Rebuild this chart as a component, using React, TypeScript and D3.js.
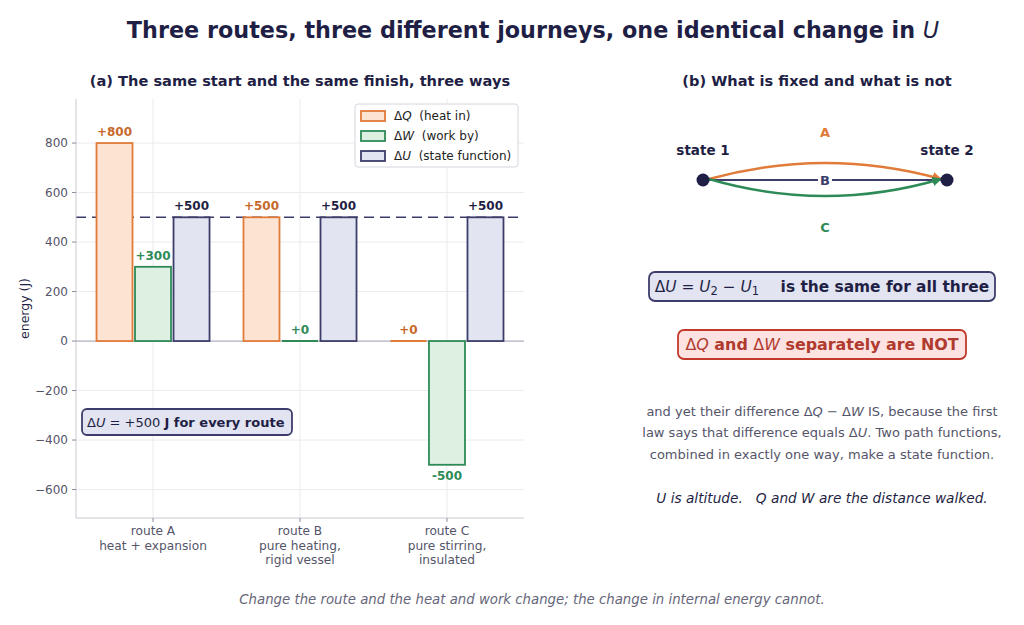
import { useRef, useEffect } from 'react';
import * as d3 from 'd3';

const W = 1024, H = 625;
const M = { top: 99, right: 500, bottom: 107, left: 76 };
const IW = 524 - M.left;
const IH = 518 - M.top;

const ROUTES = ['route A', 'route B', 'route C'];
const ROUTE_NOTES = [['heat + expansion'], ['pure heating,', 'rigid vessel'], ['pure stirring,', 'insulated']];
const DQ = [800, 500, 0];
const DW = [300, 0, -500];
const DU = [500, 500, 500];
const Y_TICKS = [-600, -400, -200, 0, 200, 400, 600, 800];
const Y_DOMAIN = [-715, 978];
const DU_COMMON = 500;

const NAVY = '#1f1f45';
const GREY = '#55556a';
const SERIES = [
  { key: 'Q', values: DQ, stroke: '#e07b39', fill: '#fde3d2', label: '#c8692b', name: '(heat in)' },
  { key: 'W', values: DW, stroke: '#2e8b57', fill: '#def0e1', label: '#2e8b57', name: '(work by)' },
  { key: 'U', values: DU, stroke: '#3d3d6b', fill: '#e2e4f1', label: NAVY, name: '(state function)' },
];

type Part = { t: string; i?: boolean; b?: boolean; sub?: boolean };

// append mixed upright / italic / subscript runs, mathtext style
function rich(sel: d3.Selection<SVGTextElement, unknown, null, undefined>, parts: Part[]) {
  sel.attr('xml:space', 'preserve');
  parts.forEach(p => {
    const ts = sel.append('tspan').text(p.t);
    if (p.i) ts.attr('font-style', 'italic');
    if (p.b === false) ts.attr('font-weight', 'normal');
    if (p.b) ts.attr('font-weight', 'bold');
    if (p.sub) ts.attr('baseline-shift', '-25%').attr('font-size', '75%');
  });
  return sel;
}

export default function App() {
  const svgRef = useRef<SVGSVGElement>(null);

  useEffect(() => {
    const svg = d3.select(svgRef.current);
    svg.selectAll('*').remove();
    svg.attr('font-family', '"DejaVu Sans", sans-serif');

    svg.append('rect').attr('width', W).attr('height', H).attr('fill', '#fff');

    // titles
    rich(svg.append('text').attr('x', 533).attr('y', 38).attr('text-anchor', 'middle')
      .attr('font-size', 22.3).attr('font-weight', 'bold').attr('fill', NAVY),
      [{ t: 'Three routes, three different journeys, one identical change in ' }, { t: 'U', i: true, b: false }]);
    svg.append('text').attr('x', 300).attr('y', 86).attr('text-anchor', 'middle')
      .attr('font-size', 14.6).attr('font-weight', 'bold').attr('fill', NAVY)
      .text('(a) The same start and the same finish, three ways');
    svg.append('text').attr('x', 817).attr('y', 86).attr('text-anchor', 'middle')
      .attr('font-size', 14.6).attr('font-weight', 'bold').attr('fill', NAVY)
      .text('(b) What is fixed and what is not');

    // ---- panel (a): grouped bars ----
    const x = d3.scaleLinear().domain([-0.524, 2.524]).range([M.left, M.left + IW]);
    const y = d3.scaleLinear().domain(Y_DOMAIN).range([M.top + IH, M.top]);
    const bw = x(0.245) - x(0);
    const off = x(0.262) - x(0);

    const g = svg.append('g');
    g.append('g').selectAll('line').data(Y_TICKS).join('line')
      .attr('x1', M.left).attr('x2', M.left + IW).attr('y1', d => y(d)).attr('y2', d => y(d))
      .attr('stroke', '#ebebf0').attr('stroke-width', 1);
    g.append('g').selectAll('line').data(ROUTES).join('line')
      .attr('x1', (_, i) => x(i)).attr('x2', (_, i) => x(i)).attr('y1', M.top).attr('y2', M.top + IH)
      .attr('stroke', '#ebebf0').attr('stroke-width', 1);

    // zero line
    g.append('line').attr('x1', M.left).attr('x2', M.left + IW).attr('y1', y(0)).attr('y2', y(0))
      .attr('stroke', '#b4b4c4').attr('stroke-width', 1.3);

    // common ΔU dashed reference, behind the bars
    g.append('line').attr('x1', M.left).attr('x2', M.left + IW).attr('y1', y(DU_COMMON)).attr('y2', y(DU_COMMON))
      .attr('stroke', '#3d3d6b').attr('stroke-width', 1.6).attr('stroke-dasharray', '10 6');

    SERIES.forEach((s, k) => {
      const cx = (i: number) => x(i) + (k - 1) * off;
      g.append('g').selectAll('rect').data(s.values.map((v, i) => ({ v, i })).filter(d => d.v !== 0)).join('rect')
        .attr('x', d => cx(d.i) - bw / 2).attr('width', bw)
        .attr('y', d => y(Math.max(0, d.v))).attr('height', d => Math.abs(y(d.v) - y(0)))
        .attr('fill', s.fill).attr('stroke', s.stroke).attr('stroke-width', 1.8);
      // zero-height bars collapse to their edge
      g.append('g').selectAll('line').data(s.values.map((v, i) => ({ v, i })).filter(d => d.v === 0)).join('line')
        .attr('x1', d => cx(d.i) - bw / 2).attr('x2', d => cx(d.i) + bw / 2)
        .attr('y1', y(0)).attr('y2', y(0)).attr('stroke', s.stroke).attr('stroke-width', 2);
      g.append('g').selectAll('text').data(s.values).join('text')
        .attr('x', (_, i) => cx(i)).attr('y', d => (d < 0 ? y(d) + 15 : y(d) - 7))
        .attr('text-anchor', 'middle').attr('font-size', 12).attr('font-weight', 'bold')
        .attr('fill', s.label).text(d => (d >= 0 ? `+${d}` : `${d}`));
    });

    // spines
    g.append('line').attr('x1', M.left).attr('x2', M.left).attr('y1', M.top).attr('y2', M.top + IH)
      .attr('stroke', '#c8c8d2').attr('stroke-width', 1);
    g.append('line').attr('x1', M.left).attr('x2', M.left + IW).attr('y1', M.top + IH).attr('y2', M.top + IH)
      .attr('stroke', '#c8c8d2').attr('stroke-width', 1);

    // y axis ticks + labels
    const yt = g.append('g').selectAll('g').data(Y_TICKS).join('g');
    yt.append('line').attr('x1', M.left - 4).attr('x2', M.left).attr('y1', d => y(d)).attr('y2', d => y(d))
      .attr('stroke', '#8a8a9a');
    yt.append('text').attr('x', M.left - 8).attr('y', d => y(d) + 4.3).attr('text-anchor', 'end')
      .attr('font-size', 12).attr('fill', GREY).text(d => (d < 0 ? `\u2212${-d}` : `${d}`));
    g.append('text').attr('transform', `translate(29,${M.top + IH / 2}) rotate(-90)`)
      .attr('text-anchor', 'middle').attr('font-size', 12.5).attr('fill', NAVY).text('energy (J)');

    // x axis ticks + category labels
    const xt = g.append('g').selectAll('g').data(ROUTES).join('g');
    xt.append('line').attr('x1', (_, i) => x(i)).attr('x2', (_, i) => x(i))
      .attr('y1', M.top + IH).attr('y2', M.top + IH + 4).attr('stroke', '#8a8a9a');
    xt.each(function (d, i) {
      const t = d3.select(this).append('text').attr('text-anchor', 'middle')
        .attr('font-size', 12.2).attr('fill', GREY);
      [d, ...ROUTE_NOTES[i]].forEach((line, j) => {
        t.append('tspan').attr('x', x(i)).attr('y', M.top + IH + 17 + j * 14.5).text(line);
      });
    });

    // legend
    const lg = g.append('g');
    lg.append('rect').attr('x', 355).attr('y', 104).attr('width', 163).attr('height', 63).attr('rx', 3)
      .attr('fill', '#fff').attr('stroke', '#d6d6de');
    SERIES.forEach((s, k) => {
      const ly = 116 + k * 20;
      lg.append('rect').attr('x', 361).attr('y', ly - 5).attr('width', 24).attr('height', 10)
        .attr('fill', s.fill).attr('stroke', s.stroke).attr('stroke-width', 1.8);
      rich(lg.append('text').attr('x', 394).attr('y', ly + 4.3).attr('font-size', 12).attr('fill', '#222'),
        [{ t: '\u0394' }, { t: s.key, i: true }, { t: '  ' + s.name }]);
    });

    // ΔU annotation
    g.append('rect').attr('x', 82).attr('y', 409).attr('width', 210).attr('height', 26).attr('rx', 5)
      .attr('fill', '#e2e4f1').attr('stroke', '#3d3d6b').attr('stroke-width', 1.8);
    rich(g.append('text').attr('x', 87).attr('y', 427).attr('font-size', 13).attr('fill', NAVY),
      [{ t: '\u0394' }, { t: 'U', i: true }, { t: ' = +500 ' }, { t: 'J for every route', b: true }]);

    // ---- panel (b): the state diagram ----
    const p = svg.append('g');
    const s1 = [703, 180], s2 = [947, 180];
    const mid = (s1[0] + s2[0]) / 2;
    const defs = svg.append('defs');
    [['arrA', '#e07b39'], ['arrC', '#2e8b57']].forEach(([id, c]) => {
      defs.append('marker').attr('id', id).attr('viewBox', '0 0 10 10').attr('refX', 9).attr('refY', 5)
        .attr('markerWidth', 4).attr('markerHeight', 4).attr('orient', 'auto')
        .append('path').attr('d', 'M0,0L10,5L0,10z').attr('fill', c);
    });
    const curve = (bend: number) => {
      const path = d3.path();
      path.moveTo(s1[0] + 6, s1[1] - 1);
      path.quadraticCurveTo(mid, s1[1] + bend, s2[0] - 6, s2[1] - 1);
      return path.toString();
    };
    p.append('line').attr('x1', s1[0]).attr('x2', s2[0] - 6).attr('y1', s1[1]).attr('y2', s1[1])
      .attr('stroke', '#3d3d6b').attr('stroke-width', 2.2);
    p.append('path').attr('d', curve(-33)).attr('fill', 'none').attr('stroke', '#e07b39')
      .attr('stroke-width', 2.4).attr('marker-end', 'url(#arrA)');
    p.append('path').attr('d', curve(33)).attr('fill', 'none').attr('stroke', '#2e8b57')
      .attr('stroke-width', 2.4).attr('marker-end', 'url(#arrC)');
    p.append('rect').attr('x', mid - 7).attr('y', s1[1] - 7).attr('width', 14).attr('height', 14).attr('fill', '#fff');
    p.append('text').attr('x', mid).attr('y', s1[1] + 4.7).attr('text-anchor', 'middle')
      .attr('font-size', 13).attr('font-weight', 'bold').attr('fill', '#3d3d6b').text('B');
    p.append('text').attr('x', mid).attr('y', 137).attr('text-anchor', 'middle')
      .attr('font-size', 13).attr('font-weight', 'bold').attr('fill', '#e07b39').text('A');
    p.append('text').attr('x', mid).attr('y', 232).attr('text-anchor', 'middle')
      .attr('font-size', 13).attr('font-weight', 'bold').attr('fill', '#2e8b57').text('C');
    [s1, s2].forEach((s, i) => {
      p.append('circle').attr('cx', s[0]).attr('cy', s[1]).attr('r', 6.5).attr('fill', NAVY);
      p.append('text').attr('x', s[0]).attr('y', 155).attr('text-anchor', 'middle')
        .attr('font-size', 13.5).attr('font-weight', 'bold').attr('fill', NAVY).text(`state ${i + 1}`);
    });

    p.append('rect').attr('x', 649).attr('y', 272).attr('width', 346).attr('height', 29).attr('rx', 6)
      .attr('fill', '#e2e4f1').attr('stroke', '#3d3d6b').attr('stroke-width', 1.8);
    rich(p.append('text').attr('x', 822).attr('y', 292).attr('text-anchor', 'middle')
      .attr('font-size', 15.4).attr('fill', NAVY),
      [{ t: '\u0394' }, { t: 'U', i: true }, { t: ' = ' }, { t: 'U', i: true }, { t: '2', sub: true },
        { t: ' \u2212 ' }, { t: 'U', i: true }, { t: '1', sub: true }, { t: '    is the same for all three', b: true }]);

    p.append('rect').attr('x', 678).attr('y', 330).attr('width', 288).attr('height', 29).attr('rx', 6)
      .attr('fill', '#fde2e2').attr('stroke', '#c0392b').attr('stroke-width', 1.8);
    rich(p.append('text').attr('x', 822).attr('y', 350).attr('text-anchor', 'middle')
      .attr('font-size', 15.9).attr('fill', '#b03a2e'),
      [{ t: '\u0394' }, { t: 'Q', i: true }, { t: ' and ', b: true }, { t: '\u0394' }, { t: 'W', i: true },
        { t: ' separately are NOT', b: true }]);

    const para: Part[][] = [
      [{ t: 'and yet their difference \u0394' }, { t: 'Q', i: true }, { t: ' \u2212 \u0394' }, { t: 'W', i: true }, { t: ' IS, because the first' }],
      [{ t: 'law says that difference equals \u0394' }, { t: 'U', i: true }, { t: '. Two path functions,' }],
      [{ t: 'combined in exactly one way, make a state function.' }],
    ];
    para.forEach((parts, j) => {
      rich(p.append('text').attr('x', 822).attr('y', 415.5 + j * 21.5).attr('text-anchor', 'middle')
        .attr('font-size', 13).attr('fill', GREY), parts);
    });
    p.append('text').attr('x', 822).attr('y', 503).attr('text-anchor', 'middle')
      .attr('font-size', 13.7).attr('font-style', 'italic').attr('fill', NAVY)
      .attr('xml:space', 'preserve').text('U is altitude.   Q and W are the distance walked.');

    // footer
    svg.append('text').attr('x', 532).attr('y', 603.5).attr('text-anchor', 'middle')
      .attr('font-size', 13.3).attr('font-style', 'italic').attr('fill', '#66667a')
      .text('Change the route and the heat and work change; the change in internal energy cannot.');
  }, []);

  return (
    <div style={{ position: 'absolute', left: 0, top: 0 }}>
      <svg ref={svgRef} width={W} height={H} viewBox={`0 0 ${W} ${H}`} style={{ display: 'block' }} />
    </div>
  );
}
